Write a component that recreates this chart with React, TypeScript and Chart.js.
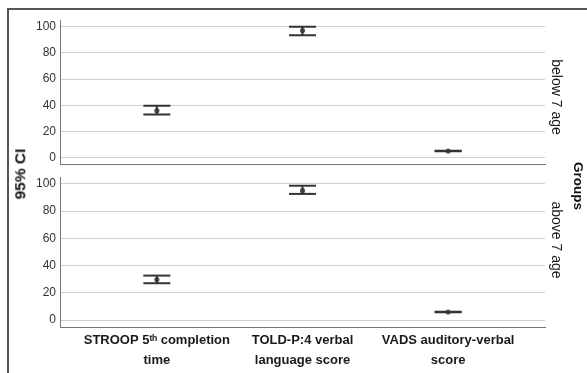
import React, { useEffect, useRef } from "react";
import { Chart, registerables } from "chart.js";

Chart.register(...registerables);

const categories: string[][] = [
  ["STROOP 5ᵗʰ completion", "time"],
  ["TOLD-P:4 verbal", "language score"],
  ["VADS auditory-verbal", "score"],
];
const yTickValues = [0, 20, 40, 60, 80, 100];

const below7Mean = [36.0, 97.0, 5.2];
const below7Lower = [33.1, 93.4, 5.0];
const below7Upper = [39.7, 99.8, 5.4];

const above7Mean = [29.8, 95.0, 6.0];
const above7Lower = [27.1, 92.6, 5.8];
const above7Upper = [32.7, 98.6, 6.2];

const groupLabels = ["below 7 age", "above 7 age"];
const yTitle = "95% CI";
const groupTitle = "Groups";

const FONT = '"Liberation Sans", Arial, sans-serif';

function makeConfig(mean: number[], lower: number[], upper: number[], showX: boolean, padding: any): any {
  const caps: any[] = [];
  const whiskers: any[] = [];
  const means: any[] = [];
  mean.forEach((m, i) => {
    caps.push({ x: i, y: lower[i] }, { x: i, y: upper[i] });
    whiskers.push({ x: i, y: lower[i] }, { x: i, y: upper[i] }, { x: i + 0.5, y: null });
    means.push({ x: i, y: m });
  });
  return {
    type: "scatter",
    data: {
      datasets: [
        {
          type: "line",
          data: whiskers,
          borderColor: "#333",
          borderWidth: 2,
          pointRadius: 0,
          spanGaps: false,
          fill: false,
        },
        {
          type: "scatter",
          data: caps,
          pointStyle: "line",
          pointRadius: 13.5,
          pointBorderWidth: 2,
          borderColor: "#333",
          backgroundColor: "#333",
        },
        {
          type: "scatter",
          data: means,
          pointStyle: "circle",
          pointRadius: 2.6,
          pointBorderWidth: 0,
          backgroundColor: "#5a5a5a",
          borderColor: "#5a5a5a",
        },
      ],
    },
    options: {
      responsive: false,
      animation: false,
      events: [],
      layout: { padding },
      plugins: { legend: { display: false }, tooltip: { enabled: false } },
      scales: {
        x: {
          type: "linear",
          min: -0.665,
          max: 2.665,
          afterBuildTicks: (s: any) => {
            s.ticks = categories.map((_, i) => ({ value: i }));
          },
          ticks: {
            display: showX,
            autoSkip: false,
            maxRotation: 0,
            minRotation: 0,
            padding: 4,
            color: "#1a1a1a",
            font: { family: FONT, size: 13, weight: "bold", lineHeight: 1.5 },
            callback: (v: any) => categories[v] ?? "",
          },
          grid: { display: false, drawTicks: false },
          border: { display: true, color: "#777", width: 1 },
          afterFit: (s: any) => {
            s.height = showX ? 46 : 0;
          },
        },
        y: {
          type: "linear",
          min: -5,
          max: 105,
          afterBuildTicks: (s: any) => {
            s.ticks = yTickValues.map((v) => ({ value: v }));
          },
          ticks: { color: "#333", padding: 4, font: { family: FONT, size: 12 } },
          grid: { color: "#d0d0d0", lineWidth: 1, drawTicks: false },
          border: { display: true, color: "#777", width: 1 },
          afterFit: (s: any) => {
            s.width = 60;
          },
        },
      },
    },
  };
}

export default function App() {
  const topRef = useRef<HTMLCanvasElement | null>(null);
  const botRef = useRef<HTMLCanvasElement | null>(null);

  useEffect(() => {
    const c1 = new Chart(
      topRef.current as HTMLCanvasElement,
      makeConfig(below7Mean, below7Lower, below7Upper, false, { left: 0, top: 20, right: 42, bottom: 9 })
    );
    const c2 = new Chart(
      botRef.current as HTMLCanvasElement,
      makeConfig(above7Mean, above7Lower, above7Upper, true, { left: 0, top: 177, right: 42, bottom: 0 })
    );
    return () => {
      c1.destroy();
      c2.destroy();
    };
  }, []);

  const rot = (cx: number, cy: number, deg: number, extra: any) => ({
    position: "absolute" as const,
    left: cx,
    top: cy,
    transform: `translate(-50%, -50%) rotate(${deg}deg)`,
    whiteSpace: "nowrap" as const,
    fontFamily: FONT,
    lineHeight: 1,
    ...extra,
  });

  return (
    <div style={{ position: "absolute", left: 0, top: 0, width: 587, height: 373, overflow: "hidden", background: "#fff" }}>
      <div
        style={{
          position: "absolute",
          left: 7,
          top: 8,
          width: 600,
          height: 400,
          borderTop: "2px solid #555",
          borderLeft: "2px solid #555",
        }}
      />
      <canvas ref={botRef} width={587} height={373} style={{ position: "absolute", left: 0, top: 0, width: 587, height: 373 }} />
      <canvas ref={topRef} width={587} height={180} style={{ position: "absolute", left: 0, top: 0, width: 587, height: 180 }} />
      <div style={rot(20, 174, -90, { fontSize: 15.5, fontWeight: "bold", color: "#111" })}>{yTitle}</div>
      <div style={rot(557, 97, 90, { fontSize: 14, color: "#1a1a1a" })}>{groupLabels[0]}</div>
      <div style={rot(557, 240, 90, { fontSize: 14, color: "#1a1a1a" })}>{groupLabels[1]}</div>
      <div style={rot(578, 186, 90, { fontSize: 13.5, fontWeight: "bold", color: "#111" })}>{groupTitle}</div>
    </div>
  );
}
